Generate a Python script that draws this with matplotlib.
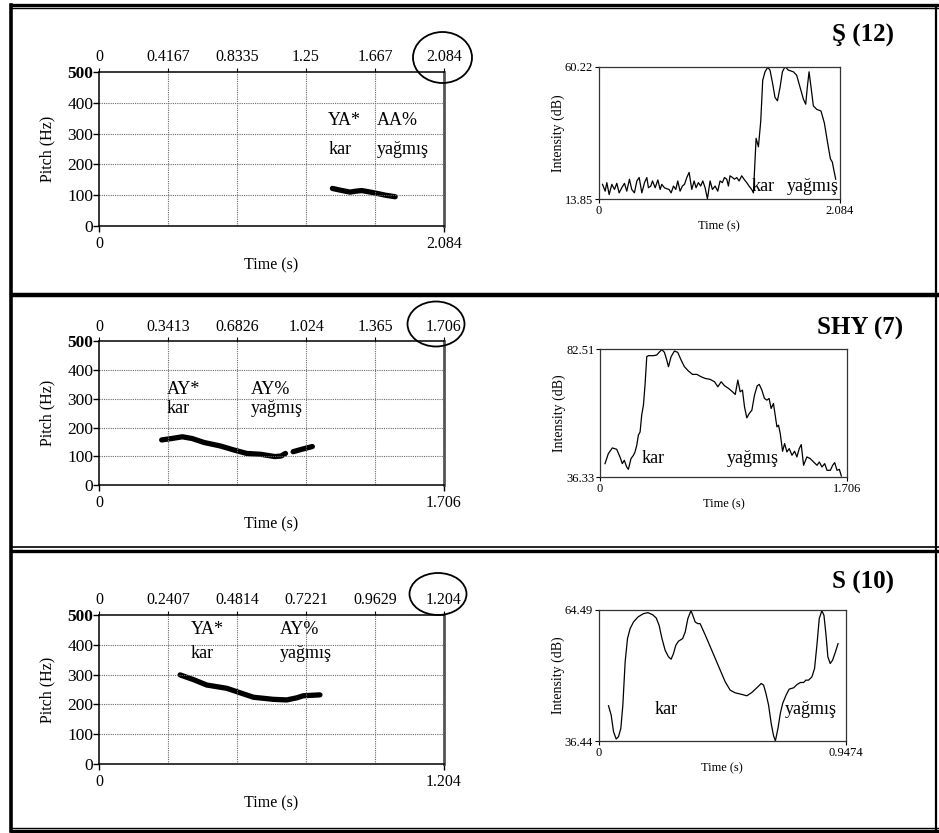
import matplotlib
matplotlib.use("Agg")
import matplotlib.pyplot as plt
from matplotlib.patches import Ellipse

plt.rcParams['font.family'] = ['Liberation Serif', 'DejaVu Serif']

W, H = 939, 833

# ---------------- data ----------------
# pitch panels (time s, Hz)
p1_dur = 2.084
p1_top = ["0", "0.4167", "0.8335", "1.25", "1.667", "2.084"]
p1_t = [1.41, 1.46, 1.517, 1.55, 1.587, 1.63, 1.678, 1.73, 1.789]
p1_f = [122, 116, 110, 113, 115, 111, 106, 100, 95]

p2_dur = 1.706
p2_top = ["0", "0.3413", "0.6826", "1.024", "1.365", "1.706"]
p2_t_a = [0.31, 0.36, 0.412, 0.46, 0.52, 0.6, 0.667, 0.73, 0.8, 0.87, 0.9, 0.922]
p2_f_a = [157, 162, 168, 162, 148, 136, 122, 110, 107, 99, 101, 110]
p2_t_b = [0.96, 1.0, 1.055]
p2_f_b = [116, 124, 134]

p3_dur = 1.204
p3_top = ["0", "0.2407", "0.4814", "0.7221", "0.9629", "1.204"]
p3_t = [0.283, 0.33, 0.376, 0.446, 0.48, 0.539, 0.608, 0.655, 0.69, 0.713, 0.771]
p3_f = [299, 283, 265, 254, 243, 224, 217, 215, 222, 229, 232]

# intensity panels (time s, dB)
i1_dur, i1_lo, i1_hi = 2.084, 13.85, 60.22
i1_t = [0.0345, 0.0575, 0.0719, 0.092, 0.115, 0.138, 0.158, 0.178, 0.201, 0.224,
        0.244, 0.267, 0.287, 0.31, 0.331, 0.351, 0.374, 0.397, 0.417, 0.431,
        0.451, 0.466, 0.489, 0.512, 0.532, 0.546, 0.569, 0.589, 0.609, 0.627,
        0.647, 0.667, 0.684, 0.704, 0.724, 0.742, 0.762, 0.782, 0.805, 0.825,
        0.842, 0.862, 0.882, 0.9, 0.92, 0.94, 0.963, 0.983, 1.006, 1.029,
        1.049, 1.069, 1.087, 1.107, 1.121, 1.135, 1.156, 1.173, 1.193, 1.213,
        1.236, 1.256, 1.279, 1.299, 1.322, 1.337, 1.36, 1.38, 1.4, 1.417,
        1.437, 1.46, 1.48, 1.503, 1.523, 1.544, 1.567, 1.587, 1.61, 1.638,
        1.682, 1.71, 1.739, 1.768, 1.788, 1.802, 1.817, 1.834, 1.854, 1.883,
        1.92, 1.949, 1.978, 2.001, 2.018, 2.029, 2.047]
i1_v = [18.99, 16.6, 19.59, 15.4, 18.99, 17.2, 19.35, 16.0, 17.79, 19.35,
        16.6, 20.78, 17.2, 16.0, 20.18, 21.38, 16.0, 19.59, 21.38, 17.79,
        18.39, 20.18, 17.79, 20.54, 17.2, 18.99, 17.79, 17.44, 17.2, 16.0,
        18.39, 17.2, 20.18, 16.6, 18.39, 18.99, 21.38, 23.17, 17.2, 20.18,
        17.79, 19.59, 18.39, 20.18, 17.79, 13.9, 20.18, 17.2, 18.39, 16.6,
        20.18, 19.59, 21.38, 20.78, 18.39, 21.98, 21.38, 20.78, 21.38, 20.18,
        21.98, 20.78, 19.59, 18.39, 17.2, 16.0, 35.12, 32.14, 41.1, 55.44,
        58.43, 59.98, 59.02, 54.25, 49.46, 48.27, 53.05, 58.43, 60.22, 59.02,
        58.43, 57.23, 53.05, 48.87, 47.07, 53.05, 58.43, 53.05, 46.48, 45.28,
        44.68, 40.5, 33.33, 27.95, 26.76, 24.37, 20.78]

i2_dur, i2_lo, i2_hi = 1.706, 36.33, 82.51
i2_t = [0.0346, 0.0576, 0.0853, 0.115, 0.138, 0.154, 0.168, 0.184, 0.196, 0.214,
        0.231, 0.242, 0.254, 0.265, 0.277, 0.288, 0.3, 0.311, 0.323, 0.334,
        0.369, 0.392, 0.408, 0.427, 0.445, 0.461, 0.473, 0.491, 0.514, 0.537,
        0.56, 0.583, 0.611, 0.639, 0.669, 0.6985, 0.726, 0.761, 0.791, 0.814,
        0.837, 0.86, 0.888, 0.915, 0.934, 0.952, 0.968, 0.984, 0.998, 1.014,
        1.031, 1.049, 1.067, 1.086, 1.1, 1.118, 1.136, 1.153, 1.168, 1.182,
        1.198, 1.21, 1.222, 1.233, 1.245, 1.261, 1.275, 1.291, 1.307, 1.326,
        1.344, 1.36, 1.376, 1.39, 1.406, 1.429, 1.452, 1.475, 1.499, 1.515,
        1.533, 1.552, 1.568, 1.591, 1.607, 1.621, 1.637, 1.653, 1.667]
i2_v = [41.15, 44.77, 46.82, 46.34, 43.57, 41.15, 42.36, 39.95, 39.1, 42.96,
        44.17, 45.38, 47.79, 51.4, 52.61, 58.64, 62.25, 69.49, 79.74, 80.1,
        80.1, 80.34, 81.3, 82.27, 81.3, 78.53, 76.12, 79.74, 81.79, 81.3,
        78.53, 76.12, 74.55, 73.35, 73.35, 72.5, 71.9, 71.54, 70.69, 68.89,
        70.69, 69.25, 68.28, 67.08, 66.11, 71.3, 67.08, 67.68, 61.65, 57.67,
        59.24, 60.45, 65.87, 69.25, 69.73, 67.68, 64.67, 64.06, 64.67, 61.05,
        62.86, 58.64, 54.42, 55.02, 52.01, 45.62, 48.39, 45.38, 46.58, 44.17,
        45.62, 43.57, 46.58, 48.03, 40.55, 43.57, 42.96, 41.76, 40.55, 41.76,
        39.95, 41.15, 38.74, 38.74, 40.55, 41.52, 38.74, 39.1, 36.69]

i3_dur, i3_lo, i3_hi = 0.9474, 36.44, 64.49
i3_t = [0.0383, 0.0485, 0.0575, 0.0677, 0.0766, 0.0855, 0.0932, 0.102, 0.111, 0.121,
        0.134, 0.151, 0.172, 0.189, 0.207, 0.221, 0.232, 0.243, 0.255, 0.268,
        0.278, 0.287, 0.296, 0.306, 0.322, 0.332, 0.342, 0.354, 0.361, 0.37,
        0.38, 0.389, 0.409, 0.428, 0.447, 0.466, 0.485, 0.504, 0.523, 0.549,
        0.568, 0.587, 0.606, 0.623, 0.632, 0.641, 0.651, 0.661, 0.67, 0.677,
        0.687, 0.696, 0.705, 0.718, 0.73, 0.747, 0.76, 0.773, 0.785, 0.794,
        0.804, 0.817, 0.827, 0.836, 0.845, 0.855, 0.863, 0.871, 0.878, 0.887,
        0.896, 0.907, 0.917]
i3_v = [43.99, 41.99, 38.43, 36.87, 37.37, 39.15, 44.13, 53.38, 58.37, 60.5,
        61.93, 62.99, 63.71, 63.92, 63.49, 62.78, 61.21, 58.37, 55.88, 54.45,
        53.95, 55.16, 56.94, 57.8, 58.37, 59.79, 62.64, 64.35, 63.35, 61.93,
        61.57, 61.57, 59.08, 56.59, 54.1, 51.6, 49.11, 47.33, 46.76, 46.41,
        46.12, 46.83, 47.83, 48.76, 48.4, 46.62, 44.13, 40.21, 37.58, 36.44,
        39.15, 42.35, 44.49, 46.26, 47.55, 47.83, 48.54, 48.97, 48.97, 49.47,
        49.47, 50.18, 51.96, 56.94, 62.64, 64.35, 63.35, 59.08, 54.45, 53.03,
        53.74, 55.52, 57.3]

titles = ["Ş (12)", "SHY (7)", "S (10)"]
tones = [("YA*", "AA%"), ("AY*", "AY%"), ("YA*", "AY%")]
words = ("kar", "yağmış")
pitch_ticks = [0, 100, 200, 300, 400, 500]

# ---------------- drawing ----------------
fig = plt.figure(figsize=(W / 100, H / 100), dpi=100)


def box(x0, y0, x1, y1):
    return fig.add_axes([x0 / W, 1 - y1 / H, (x1 - x0) / W, (y1 - y0) / H])


def pitch_panel(rect, dur, top, segs, tone, tone_pos, word_pos):
    ax = box(*rect)
    for t, f in segs:
        ax.plot(t, f, color="black", lw=3.8, solid_capstyle="round")
    ax.set_xlim(0, dur)
    ax.set_ylim(0, 500)
    ticks = [float(s) for s in top]
    for x in ticks[1:-1]:
        ax.axvline(x, color="#6a6a6a", ls=(0, (1, 1)), lw=0.8)
    for y in pitch_ticks[1:-1]:
        ax.axhline(y, color="#6a6a6a", ls=(0, (1, 1)), lw=0.8)
    ax.set_yticks(pitch_ticks, labels=[str(v) for v in pitch_ticks])
    ax.tick_params(axis="y", labelsize=12.5, length=4, width=1, pad=0)
    ax.get_yticklabels()[-1].set_fontweight("bold")
    ax.set_xticks([0, dur], labels=["0", top[-1]])
    ax.tick_params(axis="x", labelsize=11.5, length=4, width=1, pad=3)
    sec = ax.secondary_xaxis("top")
    sec.set_xticks(ticks, labels=top)
    sec.tick_params(labelsize=11.5, length=3, width=0.8, pad=2)
    sec.spines["top"].set_visible(False)
    ax.spines["right"].set_color("#555555")
    ax.spines["right"].set_linewidth(2)
    for s in ["left", "top", "bottom"]:
        ax.spines[s].set_linewidth(1.1)
    ax.set_ylabel("Pitch (Hz)", fontsize=11.5, labelpad=9)
    ax.set_xlabel("Time (s)", fontsize=11.5, labelpad=4)
    (xa, xb), (ya, yb) = tone_pos, word_pos
    ax.text(xa, ya, tone[0], fontsize=13, va="center")
    ax.text(xb, ya, tone[1], fontsize=13, va="center")
    ax.text(xa, yb, words[0], fontsize=13, va="center")
    ax.text(xb, yb, words[1], fontsize=13, va="center")
    return ax


def intensity_panel(rect, dur, lo, hi, t, v, kar_t, yag_t, word_v):
    ax = box(*rect)
    ax.plot(t, v, color="black", lw=0.9)
    ax.set_xlim(0, dur)
    ax.set_ylim(lo, hi)
    ax.set_xticks([0, dur], labels=["0", f"{dur:g}"])
    ax.set_yticks([lo, hi], labels=[f"{lo:.2f}", f"{hi:.2f}"])
    ax.tick_params(labelsize=9, length=3, width=0.8, pad=1)
    for s in ax.spines.values():
        s.set_linewidth(0.9)
        s.set_color("#333333")
    ax.set_xlabel("Time (s)", fontsize=9, labelpad=3)
    ax.set_ylabel("Intensity (dB)", fontsize=10, labelpad=0)
    ax.text(kar_t, word_v, words[0], fontsize=13, va="center")
    ax.text(yag_t, word_v, words[1], fontsize=13, va="center")
    return ax


pitch_panel((99, 72, 444, 226), p1_dur, p1_top, [(p1_t, p1_f)],
            tones[0], (1.384, 1.68), (344, 250))
pitch_panel((99, 341.5, 444, 485), p2_dur, p2_top,
            [(p2_t_a, p2_f_a), (p2_t_b, p2_f_b)],
            tones[1], (0.336, 0.752), (334, 268))
pitch_panel((99, 615, 444, 764), p3_dur, p3_top, [(p3_t, p3_f)],
            tones[2], (0.32, 0.63), (450, 372))

intensity_panel((598.5, 66.7, 840, 199), i1_dur, i1_lo, i1_hi, i1_t, i1_v,
                1.325, 1.624, 18.06)
intensity_panel((600, 349, 847, 477), i2_dur, i2_lo, i2_hi, i2_t, i2_v,
                0.288, 0.875, 43.18)
intensity_panel((598.5, 610, 846, 741), i3_dur, i3_lo, i3_hi, i3_t, i3_v,
                0.216, 0.714, 43.08)

# frame, separators, circles and titles on a full-figure overlay
over = fig.add_axes([0, 0, 1, 1], zorder=5)
over.set_xlim(0, W)
over.set_ylim(H, 0)
over.axis("off")
over.patch.set_alpha(0)
for y, lw in [(5, 2.4), (7.6, 1.0), (295, 3.2), (546.5, 1.2), (551, 2.4), (828, 1.0), (830.5, 2.4)]:
    over.plot([10, W], [y, y], color="black", lw=lw, solid_capstyle="butt")
over.plot([11, 11], [5, 830.5], color="black", lw=2.6)
over.plot([936, 936], [5, 830.5], color="black", lw=1.6)
for cx, cy, w, h in [(442.5, 57.5, 59, 51), (436, 324, 57, 45), (438, 594, 57, 42)]:
    over.add_patch(Ellipse((cx, cy), w, h, fill=False, color="black", lw=1.3))
for (cx, cy), s in zip([(863, 35), (860, 328), (863, 582)], titles):
    over.text(cx, cy, s, fontsize=18, fontweight="bold", ha="center", va="center")

fig.savefig("out.png", dpi=100)
